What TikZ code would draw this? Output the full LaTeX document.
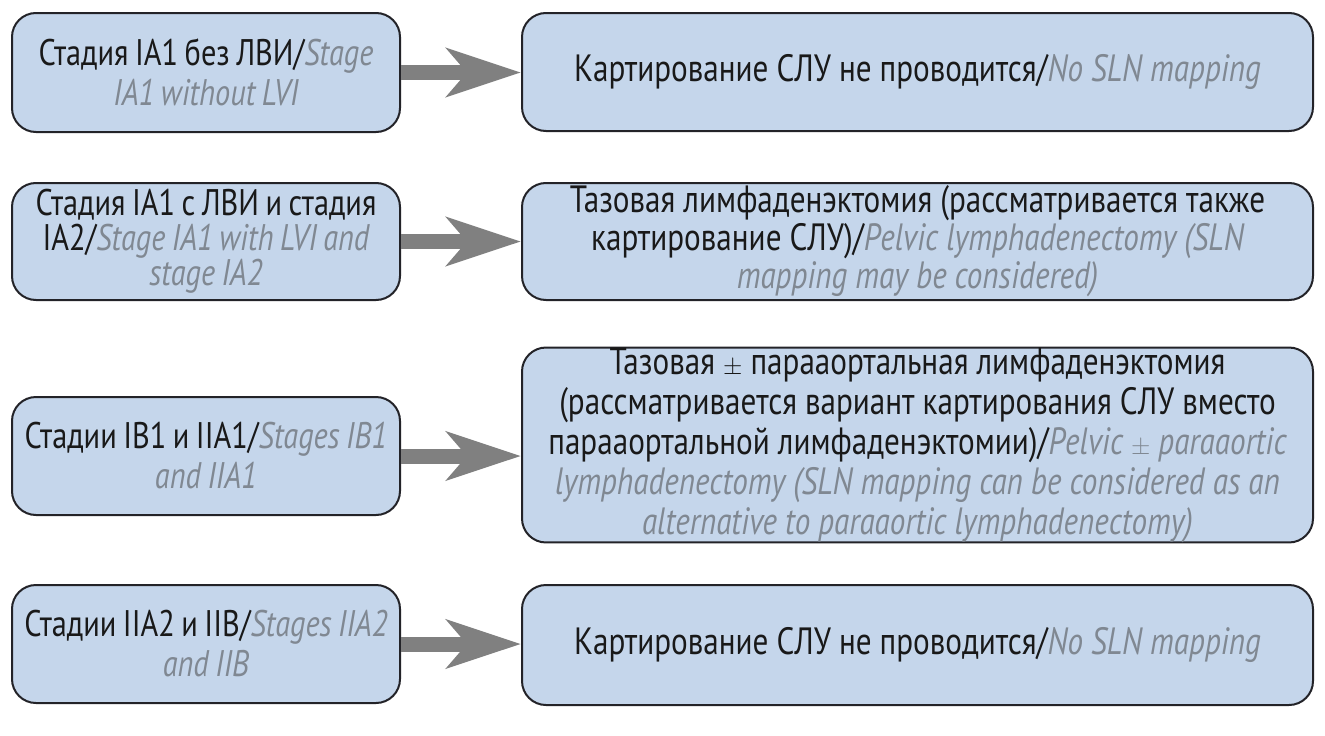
\documentclass[tikz,border=0pt]{standalone}
\usepackage{fontspec}
\setmainfont{PT Sans}[FakeStretch=0.82]
\usetikzlibrary{arrows.meta,calc}
\definecolor{boxfill}{RGB}{197,214,235}
\definecolor{boxline}{RGB}{35,35,40}
\definecolor{engtext}{RGB}{128,136,146}
\definecolor{arrowgray}{RGB}{128,128,128}
\definecolor{rutext}{RGB}{25,25,25}
\newcommand{\en}[1]{{\itshape\color{engtext}#1}}
\newcommand{\boxfont}[3]{\fontsize{#1}{#2}\selectfont\spaceskip=#3pt plus 3pt minus 2pt\relax}
\begin{document}
\begin{tikzpicture}[x=1pt,y=1pt,
  box/.style={draw=boxline, line width=2pt, fill=boxfill, rounded corners=24pt,
    align=flush center, inner sep=0pt, text=rutext},
  lbox/.style={box, minimum width=388pt, text width=386pt, font=\boxfont{37}{40}{6.5}},
  rbox/.style={box, minimum width=791pt, text width=790pt, font=\boxfont{38}{40}{8}},
  conn/.style={draw=arrowgray, line width=15pt,
    -{Stealth[length=74pt, width=48pt, inset=20pt]}}]
\useasboundingbox (0,0) rectangle (1325,-736);
\fill[white] (0,0) rectangle (1325,-736);

\node[lbox, minimum height=119pt] (l1) at (206,-72.5)
  {Стадия IA1 без ЛВИ/\en{Stage}\\ \en{IA1 without LVI}};
\node[rbox, minimum height=118pt] (r1) at (917.5,-72)
  {Картирование СЛУ не проводится/\en{No SLN mapping}};

\node[lbox, minimum height=117pt, font=\boxfont{37}{35}{6.5}] (l2) at (206,-241.5)
  {Стадия IA1 с ЛВИ и стадия\\ IA2/\en{Stage IA1 with LVI and}\\ \en{stage IA2}\\[-6pt]};
\node[rbox, minimum height=117pt, font=\boxfont{38}{38}{8}] (r2) at (917.5,-241.5)
  {Тазовая лимфаденэктомия (рассматривается также\\ картирование СЛУ)/\en{Pelvic lymphadenectomy (SLN}\\ \en{mapping may be considered)}};

\node[lbox, minimum height=118pt] (l3) at (206,-456)
  {Стадии IB1 и IIA1/\en{Stages IB1}\\ \en{and IIA1}};
\node[rbox, minimum height=190pt] (r3) at (917.5,-445)
  {Тазовая $\pm$ парааортальная лимфаденэктомия\\
   (рассматривается вариант картирования СЛУ вместо\\
   парааортальной лимфаденэктомии)/\en{Pelvic $\pm$ paraaortic}\\
   \en{lymphadenectomy (SLN mapping can be considered as an}\\
   \en{alternative to paraaortic lymphadenectomy)}};

\node[lbox, minimum height=118pt] (l4) at (206,-644)
  {Стадии IIA2 и IIB/\en{Stages IIA2}\\ \en{and IIB}};
\node[rbox, minimum height=120pt] (r4) at (917.5,-645)
  {Картирование СЛУ не проводится/\en{No SLN mapping}};

\draw[conn] (l1.east) -- (l1.east -| r1.west);
\draw[conn] (l2.east) -- (l2.east -| r2.west);
\draw[conn] (l3.east) -- (l3.east -| r3.west);
\draw[conn] (l4.east) -- (l4.east -| r4.west);
\end{tikzpicture}
\end{document}
